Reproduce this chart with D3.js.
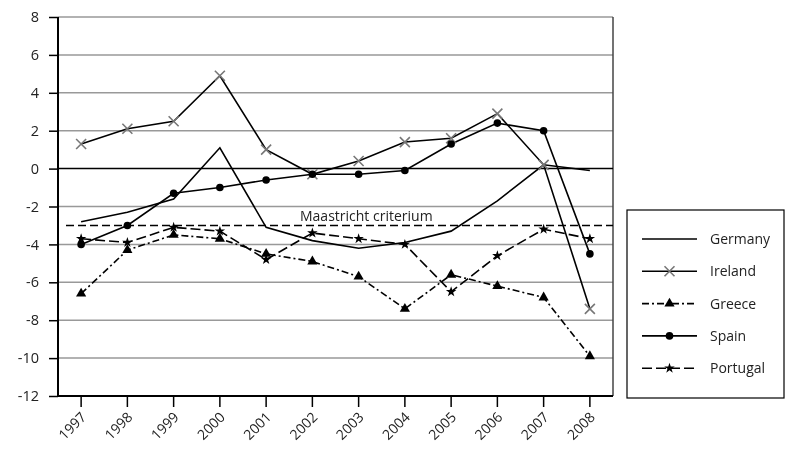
<!DOCTYPE html>
<html><head><meta charset="utf-8">
<script src="https://cdn.jsdelivr.net/npm/d3@7"></script>
<style>body{margin:0;background:#fff}svg{display:block;will-change:transform}text{font-family:"Open Sans",sans-serif;fill:#222}</style>
</head><body><svg id="c" width="792" height="449"></svg>
<script>
const years = ["1997","1998","1999","2000","2001","2002","2003","2004","2005","2006","2007","2008"];
const germany  = [-2.8,-2.3,-1.6,1.1,-3.1,-3.8,-4.2,-3.9,-3.3,-1.7,0.2,-0.1];
const ireland  = [1.3,2.1,2.5,4.9,1.0,-0.3,0.4,1.4,1.6,2.9,0.2,-7.4];
const greece   = [-6.6,-4.3,-3.5,-3.7,-4.5,-4.9,-5.7,-7.4,-5.6,-6.2,-6.8,-9.9];
const spain    = [-4.0,-3.0,-1.3,-1.0,-0.6,-0.3,-0.3,-0.1,1.3,2.4,2.0,-4.5];
const portugal = [-3.7,-3.9,-3.1,-3.3,-4.8,-3.4,-3.7,-4.0,-6.5,-4.6,-3.2,-3.7];
const seriesNames = ["Germany","Ireland","Greece","Spain","Portugal"];
const yTicks = [8,6,4,2,0,-2,-4,-6,-8,-10,-12];
const criterion = -3;
const criterionLabel = "Maastricht criterium";

const series = [
  {name:seriesNames[0], values:germany, dash:null, marker:null},
  {name:seriesNames[1], values:ireland, dash:null, marker:"x"},
  {name:seriesNames[2], values:greece, dash:"7,3,2,3", marker:"tri"},
  {name:seriesNames[3], values:spain, dash:null, marker:"circle"},
  {name:seriesNames[4], values:portugal, dash:"10,4", marker:"star"}
];

const svg = d3.select("#c");
const L=58, R=613, T=17, B=396;
const x = d3.scaleBand().domain(years).range([L,R]);
const y = d3.scaleLinear().domain([-12,8]).range([B,T]);
const cx = d => x(d)+x.bandwidth()/2;

// gridlines
svg.append("g").selectAll("line").data(yTicks.filter(t=>t!==0 && t!==-12)).join("line")
  .attr("x1",L).attr("x2",R).attr("y1",d=>y(d)).attr("y2",d=>y(d))
  .attr("stroke","#999").attr("stroke-width",1.5);
// right border
svg.append("line").attr("x1",R).attr("x2",R).attr("y1",T).attr("y2",B).attr("stroke","#444").attr("stroke-width",1.5);
// y axis
const ya = svg.append("g").attr("transform",`translate(${L},0)`)
  .call(d3.axisLeft(y).tickValues(yTicks).tickSize(9).tickPadding(10).tickFormat(d => String(d)));
ya.select(".domain").remove();
ya.selectAll("line").attr("stroke","#000").attr("stroke-width",1.5);
ya.selectAll("text").attr("font-size",14.5).style("font-family","'Open Sans',sans-serif").attr("fill","#222");
svg.append("line").attr("x1",L).attr("x2",L).attr("y1",T).attr("y2",B).attr("stroke","#000").attr("stroke-width",2);
// zero line
svg.append("line").attr("x1",L).attr("x2",R).attr("y1",y(0)).attr("y2",y(0)).attr("stroke","#000").attr("stroke-width",1.5);
// x axis
const xa = svg.append("g").attr("transform",`translate(0,${B})`)
  .call(d3.axisBottom(x).tickSize(11).tickSizeOuter(0).tickPadding(6));
xa.select(".domain").attr("stroke","#000").attr("stroke-width",2).attr("d",`M${L},0H${R}`);
xa.selectAll("line").attr("stroke","#000").attr("stroke-width",1.5);
xa.selectAll("text").attr("font-size",14).style("font-family","'Open Sans',sans-serif").attr("fill","#222")
  .attr("text-anchor","end").attr("x",0).attr("y",0).attr("dx",0).attr("dy",0)
  .attr("transform","translate(6,22) rotate(-45)");

// criterion
svg.append("line").attr("x1",66).attr("x2",R).attr("y1",y(criterion)).attr("y2",y(criterion))
  .attr("stroke","#000").attr("stroke-width",1.5).attr("stroke-dasharray","8,4");
svg.append("text").attr("x",300).attr("y",y(criterion)-4).attr("font-size",14).text(criterionLabel);

const line = d3.line().x((d,i)=>cx(years[i])).y(d=>y(d));

function drawMarker(g, type, px, py){
  if(type==="x"){
    const s=5;
    g.append("path").attr("d",`M${px-s},${py-s}L${px+s},${py+s}M${px-s},${py+s}L${px+s},${py-s}`)
      .attr("stroke","#777").attr("stroke-width",1.6).attr("fill","none");
  } else if(type==="tri"){
    g.append("path").attr("d",d3.symbol(d3.symbolTriangle,45)()).attr("transform",`translate(${px},${py})`).attr("fill","#000");
  } else if(type==="circle"){
    g.append("circle").attr("cx",px).attr("cy",py).attr("r",3.8).attr("fill","#000");
  } else if(type==="star"){
    g.append("path").attr("d",d3.symbol(d3.symbolStar,34)()).attr("transform",`translate(${px},${py})`).attr("fill","#000");
  }
}

series.forEach(s=>{
  svg.append("path").datum(s.values).attr("d",line).attr("fill","none")
    .attr("stroke","#000").attr("stroke-width",1.6).attr("stroke-dasharray",s.dash);
});
series.forEach(s=>{
  if(!s.marker) return;
  const g = svg.append("g");
  s.values.forEach((v,i)=>drawMarker(g,s.marker,cx(years[i]),y(v)));
});

// legend
svg.append("rect").attr("x",627).attr("y",210).attr("width",157).attr("height",188)
  .attr("fill","#fff").attr("stroke","#000").attr("stroke-width",1.2);
series.forEach((s,i)=>{
  const ly = 239 + i*32.3;
  svg.append("line").attr("x1",642).attr("x2",697).attr("y1",ly).attr("y2",ly)
    .attr("stroke","#000").attr("stroke-width",1.6).attr("stroke-dasharray",s.dash);
  if(s.marker) drawMarker(svg.append("g"), s.marker, 669.5, ly);
  svg.append("text").attr("x",710).attr("y",ly).attr("dy","0.35em").attr("font-size",14).text(s.name);
});
</script></body></html>
